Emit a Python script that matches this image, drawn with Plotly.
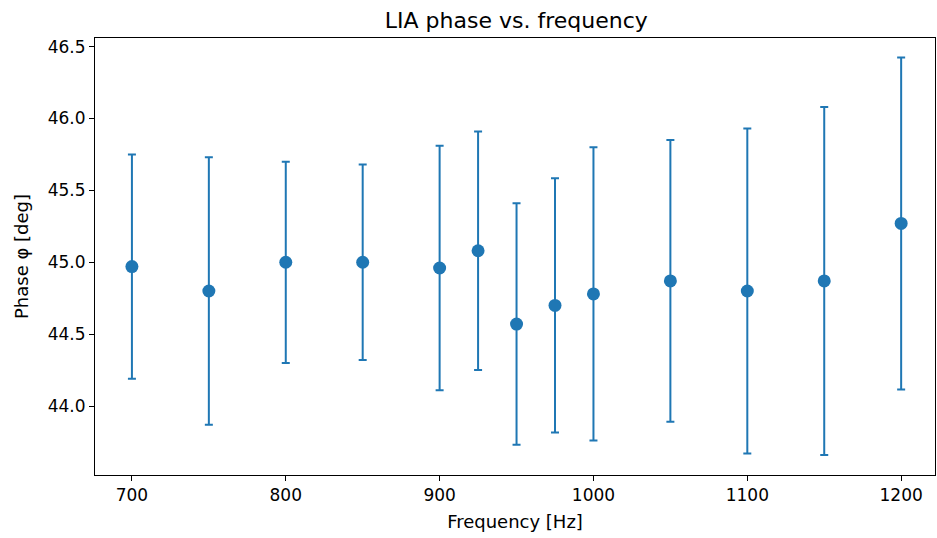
import plotly.graph_objects as go

freq = [700, 750, 800, 850, 900, 925, 950, 975, 1000, 1050, 1100, 1150, 1200]
phase = [44.97, 44.80, 45.00, 45.00, 44.96, 45.08, 44.57, 44.70, 44.78, 44.87, 44.80, 44.87, 45.27]
phase_err = [0.78, 0.93, 0.70, 0.68, 0.85, 0.83, 0.84, 0.885, 1.02, 0.98, 1.13, 1.21, 1.155]

x_ticks = [700, 800, 900, 1000, 1100, 1200]
y_ticks = [44.0, 44.5, 45.0, 45.5, 46.0, 46.5]

color = "#1f77b4"
font = "DejaVu Sans"

fig = go.Figure()
fig.add_trace(go.Scatter(
    x=freq, y=phase, mode="markers",
    marker=dict(color=color, size=13, line=dict(width=0)),
    error_y=dict(type="data", array=phase_err, visible=True,
                 color=color, thickness=2, width=4),
    showlegend=False,
))

axis_common = dict(
    showline=True, linecolor="black", linewidth=1, mirror=True,
    ticks="outside", ticklen=5, tickwidth=1, tickcolor="black",
    showgrid=False, zeroline=False,
    tickfont=dict(family=font, size=17, color="black"),
)

fig.update_layout(
    width=937, height=538,
    margin=dict(l=95, r=2, t=38, b=63),
    paper_bgcolor="white", plot_bgcolor="white",
    title=dict(text="LIA phase vs. frequency", x=0.551, xanchor="center",
               y=0.963, yanchor="middle",
               font=dict(family=font, size=22, color="black")),
    xaxis=dict(range=[676, 1222], tickvals=x_ticks, ticktext=[str(v) for v in x_ticks],
               title=dict(text="Frequency [Hz]", font=dict(family=font, size=18, color="black"), standoff=10),
               **axis_common),
    yaxis=dict(range=[43.52, 46.56], tickvals=y_ticks, ticktext=[f"{v:.1f}" for v in y_ticks],
               title=dict(text="Phase φ [deg]", font=dict(family=font, size=18, color="black"), standoff=14),
               **axis_common),
)

fig.write_html("out.html",
               config={"displayModeBar": False},
               post_script="document.body.style.margin='0';document.body.style.overflow='hidden';")
